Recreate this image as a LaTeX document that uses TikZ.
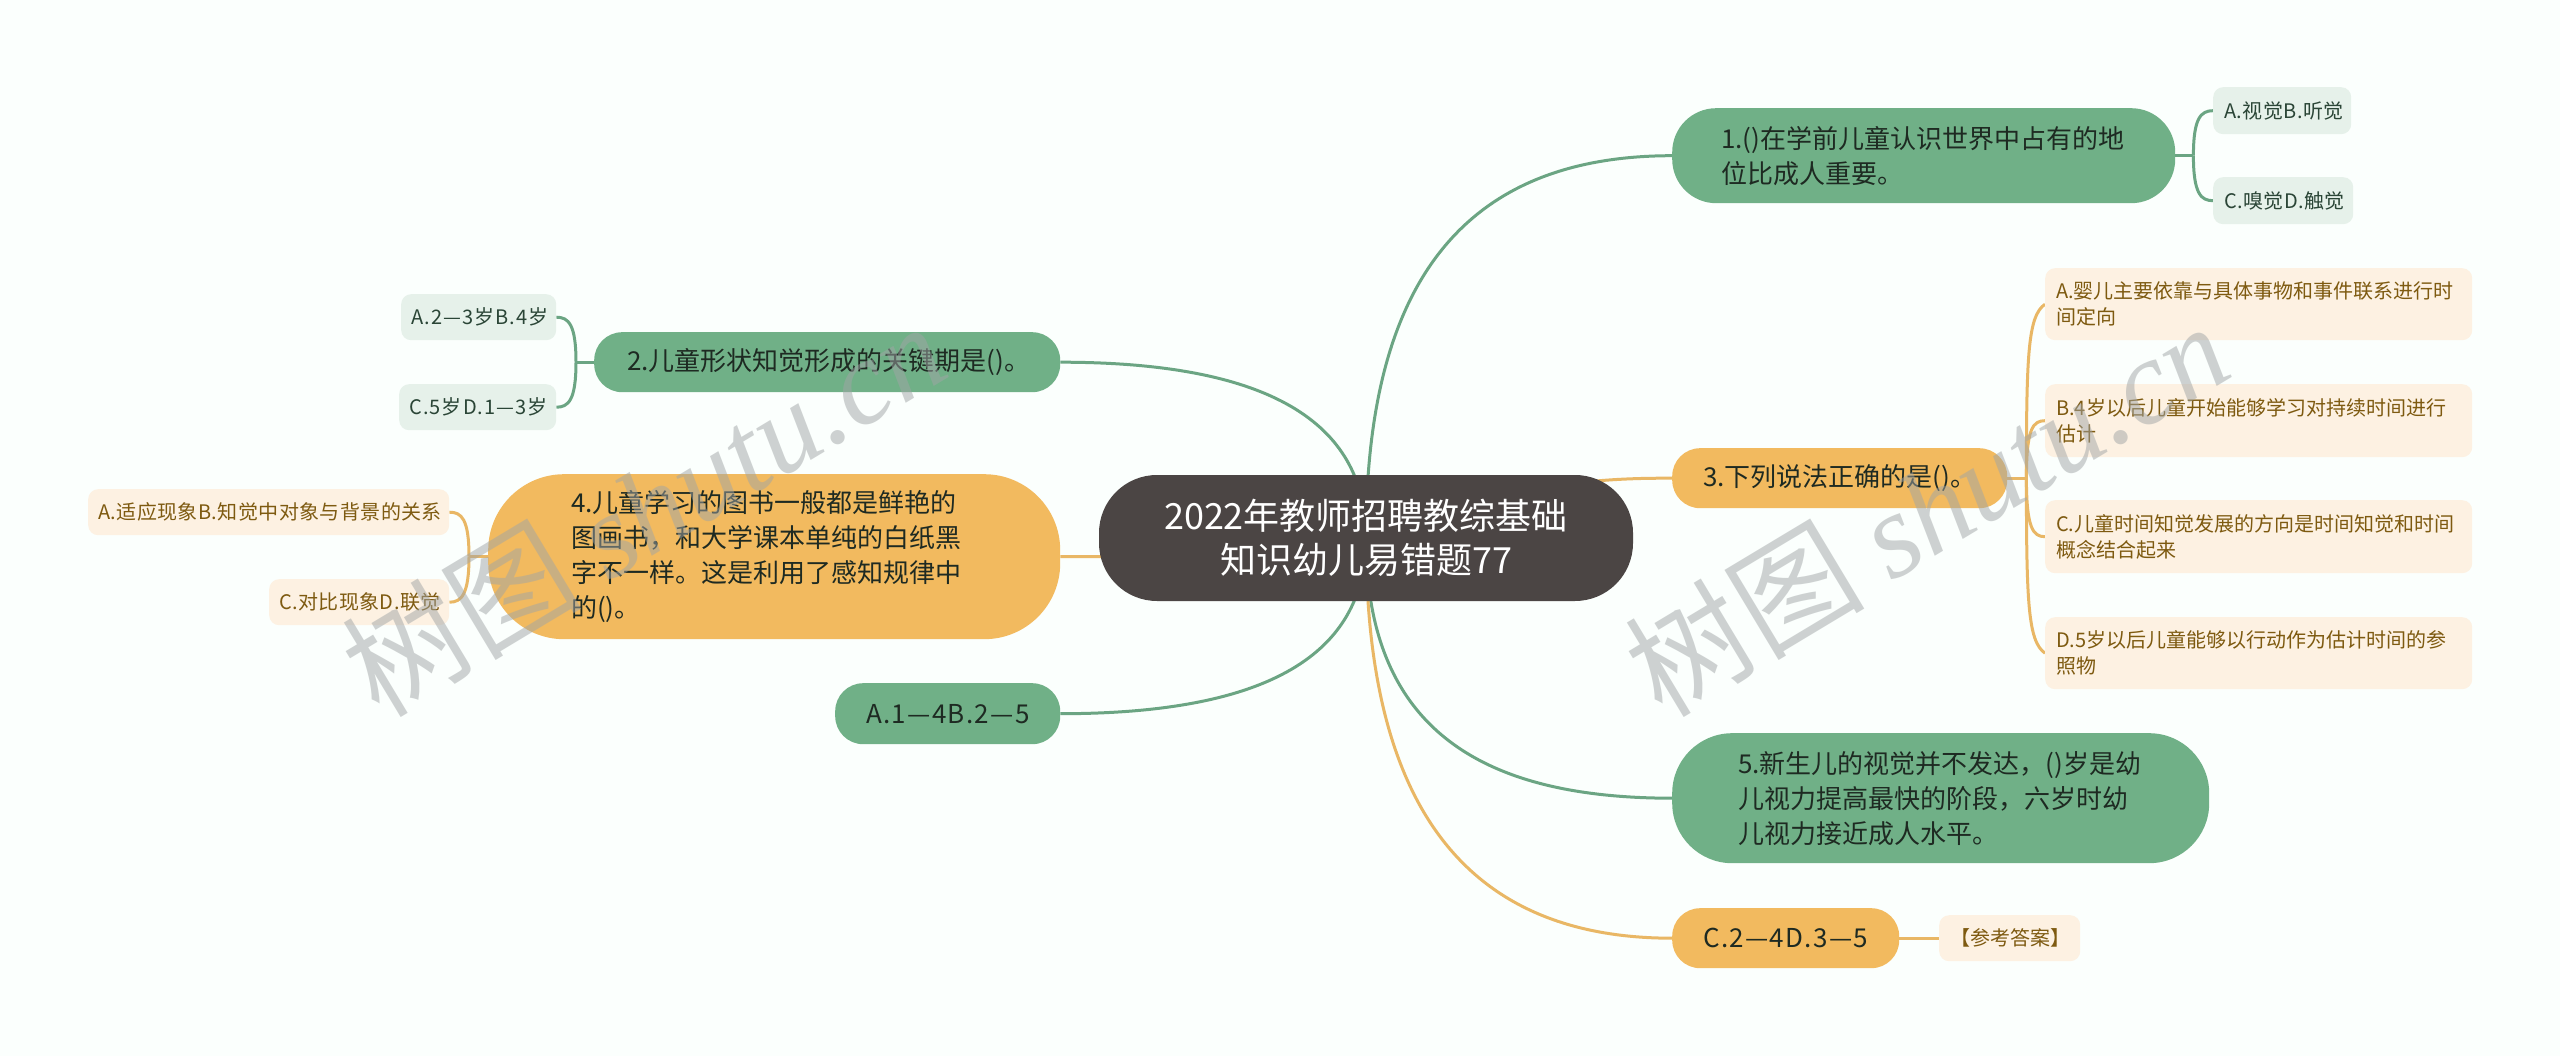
\documentclass[tikz,border=0pt]{standalone}
\usepackage{fontspec}
\setmainfont{Noto Sans CJK SC}
\newfontfamily\wmlatin{Liberation Serif}
\definecolor{bgc}{HTML}{FBFFFD}
\definecolor{greenc}{HTML}{70B087}
\definecolor{orangec}{HTML}{F2BA5F}
\definecolor{darkc}{HTML}{4B4544}
\definecolor{gleaf}{HTML}{E6F1EA}
\definecolor{oleaf}{HTML}{FDF1E2}
\definecolor{gline}{HTML}{6BA583}
\definecolor{oline}{HTML}{E9B765}
\definecolor{gtext}{HTML}{2A4536}
\definecolor{otext}{HTML}{7E5A10}
\definecolor{mtext}{HTML}{1E2A22}
\definecolor{wmc}{HTML}{A0A5A6}
\pgfdeclarelayer{conn}
\pgfsetlayers{conn,main}
\tikzset{
  gconn/.style={draw=gline,line width=3pt},
  oconn/.style={draw=oline,line width=3pt},
  greennode/.style={fill=greenc,text=mtext,font=\fontsize{26}{35}\selectfont},
  orangenode/.style={fill=orangec,text=mtext,font=\fontsize{26}{35}\selectfont},
  gleafnode/.style={fill=gleaf,text=gtext,font=\fontsize{20}{26}\selectfont},
  oleafnode/.style={fill=oleaf,text=otext,font=\fontsize{20}{26}\selectfont},
  rootnode/.style={fill=darkc,text=white,font=\fontsize{36}{44}\selectfont},
  watermark/.style={text=wmc,text opacity=0.5,rotate=31,font=\fontsize{120}{120}\selectfont},
}
\newcommand{\lsp}[2]{\mbox{\addfontfeature{LetterSpace=#1}#2}}
% style, name, x0, y0, x1, y1, left pad, corner radius, text
\newcommand{\mmbox}[9]{%
  \pgfmathsetmacro{\mmw}{#5-#3}%
  \pgfmathsetmacro{\mmh}{#6-#4}%
  \pgfmathsetmacro{\mmtw}{#5-#3-2*#7}%
  \node[#1,rectangle,rounded corners=#8pt,minimum width=\mmw pt,minimum height=\mmh pt,
        inner xsep=#7pt,inner ysep=0pt,text width=\mmtw pt,align=left,anchor=north west]
        (#2) at (#3,#4) {#9};%
}
\begin{document}
\begin{tikzpicture}[x=1pt,y=-1pt]
\useasboundingbox (0,0) rectangle (2560,1056);
\begin{pgfonlayer}{conn}
\fill[bgc] (0,0) rectangle (2560,1056);
\end{pgfonlayer}

\node[rootnode,rectangle,rounded corners=58pt,minimum width=534pt,minimum height=126pt,
      inner sep=0pt,align=center] (root) at (1366,538) {2022年教师招聘教综基础\\知识幼儿易错题77};
\mmbox{greennode}{na}{1672}{108}{2175}{203}{49}{44}{1.()在学前儿童认识世界中占有的地\\位比成人重要。}
\mmbox{orangenode}{nc}{1672}{448}{2007}{508}{31}{28}{3.下列说法正确的是()。}
\mmbox{greennode}{ne}{1672}{733}{2209}{863}{66}{60}{5.新生儿的视觉并不发达，()岁是幼\\儿视力提高最快的阶段，六岁时幼\\儿视力接近成人水平。}
\mmbox{orangenode}{nf}{1672}{908}{1899}{968}{31}{28}{\lsp{5}{C.2—4D.3—5}}
\mmbox{greennode}{nb}{594}{332}{1060}{392}{33}{28}{2.儿童形状知觉形成的关键期是()。}
\mmbox{orangenode}{nd}{488}{474}{1060}{639}{83}{76}{4.儿童学习的图书一般都是鲜艳的\\图画书，和大学课本单纯的白纸黑\\字不一样。这是利用了感知规律中\\的()。}
\mmbox{greennode}{ng}{835}{683}{1060}{744}{31}{28}{\lsp{5}{A.1—4B.2—5}}

\mmbox{gleafnode}{la}{2213}{87}{2351}{134}{11}{10}{\lsp{2}{A.视觉B.听觉}}
\mmbox{gleafnode}{lb}{2213}{177}{2353}{224}{11}{10}{\lsp{2}{C.嗅觉D.触觉}}
\mmbox{oleafnode}{ca}{2045}{268}{2472}{340}{11}{10}{A.婴儿主要依靠与具体事物和事件联系进行时\\间定向}
\mmbox{oleafnode}{cb}{2045}{384}{2472}{457}{11}{10}{B.4岁以后儿童开始能够学习对持续时间进行\\估计}
\mmbox{oleafnode}{cc}{2045}{500}{2472}{573}{11}{10}{C.儿童时间知觉发展的方向是时间知觉和时间\\概念结合起来}
\mmbox{oleafnode}{cd}{2045}{617}{2472}{689}{11}{10}{D.5岁以后儿童能够以行动作为估计时间的参\\照物}
\mmbox{oleafnode}{fa}{1939}{915}{2080}{961}{11}{10}{【参考答案】}
\mmbox{gleafnode}{ba}{401}{294}{556}{340}{10}{10}{\lsp{5.5}{A.2—3岁B.4岁}}
\mmbox{gleafnode}{bb}{399}{384}{556}{430}{10}{10}{\lsp{5.5}{C.5岁D.1—3岁}}
\mmbox{oleafnode}{da}{88}{489}{449}{535}{10}{10}{\lsp{2}{A.适应现象B.知觉中对象与背景的关系}}
\mmbox{oleafnode}{db}{269}{579}{449}{625}{10}{10}{\lsp{2}{C.对比现象D.联觉}}

\begin{pgfonlayer}{conn}
% main branches
\draw[gconn] (root.center) .. controls +(0,-238) and +(-222,0) .. (na.west);
\draw[gconn] (root.center) .. controls +(0,-109) and +(220,0) .. (nb.east);
\draw[gconn] (root.center) .. controls +(0,109) and +(220,0) .. (ng.east);
\draw[gconn] (root.center) .. controls +(0,182) and +(-202,0) .. (ne.west);
\draw[oconn] (root.center) .. controls +(0,247) and +(-222,0) .. (nf.west);
\draw[oconn] (root.center) .. controls +(150,-60) and +(-50,0) .. (nc.west);
\draw[oconn] (root.center) .. controls +(-150,19) and +(100,0) .. (nd.east);
% node 1 bracket
\draw[gconn] (na.east) -- ++(18,0) coordinate (ja);
\draw[gconn] (ja) .. controls +(0,-38) and +(-12,0) .. (la.west);
\draw[gconn] (ja) .. controls +(0,38) and +(-12,0) .. (lb.west);
% node 3 bracket
\draw[oconn] (nc.east) -- ++(19,0) coordinate (jc);
\draw[oconn] (jc) .. controls +(0,-125) and +(-17,12) .. (ca.west);
\draw[oconn] (jc) .. controls +(0,-50) and +(-12,0) .. (cb.west);
\draw[oconn] (jc) .. controls +(0,50) and +(-12,0) .. (cc.west);
\draw[oconn] (jc) .. controls +(0,125) and +(-17,-12) .. (cd.west);
% node 2 bracket
\draw[gconn] (nb.west) -- ++(-18,0) coordinate (jb);
\draw[gconn] (jb) .. controls +(0,-38) and +(12,0) .. (ba.east);
\draw[gconn] (jb) .. controls +(0,38) and +(12,0) .. (bb.east);
% node 4 bracket
\draw[oconn] (nd.west) -- ++(-19,0) coordinate (jd);
\draw[oconn] (jd) .. controls +(0,-38) and +(12,0) .. (da.east);
\draw[oconn] (jd) .. controls +(0,38) and +(12,0) .. (db.east);
% answer leaf
\draw[oconn] (nf.east) -- (fa.west);
\end{pgfonlayer}

\node[watermark] (wma) at (643,508) {树图 {\wmlatin\itshape shutu.cn}};
\node[watermark] (wmb) at (1926,508) {树图 {\wmlatin\itshape shutu.cn}};
\end{tikzpicture}
\end{document}
